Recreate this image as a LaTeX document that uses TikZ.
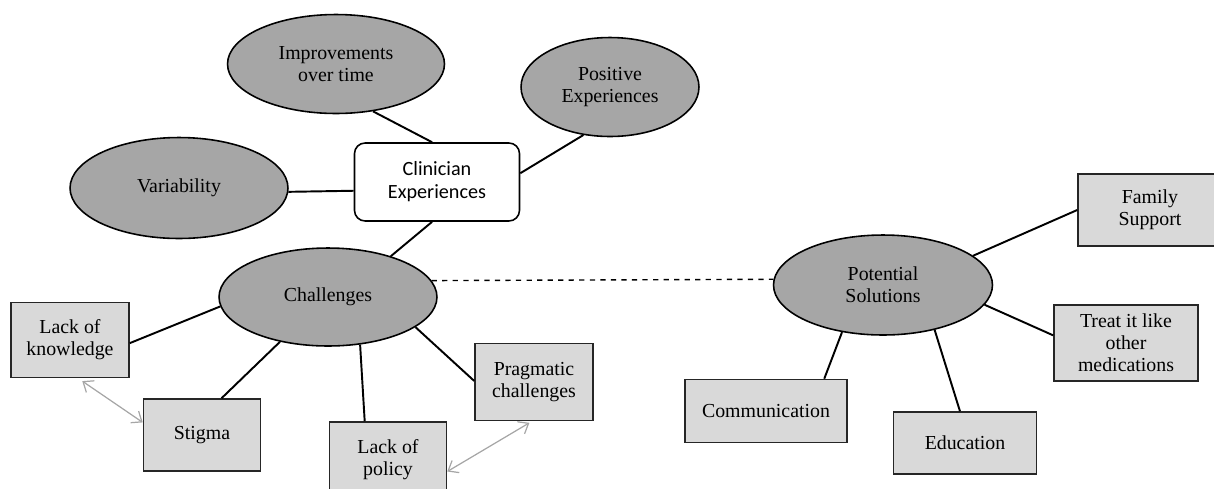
\documentclass[tikz,border=0pt]{standalone}
\usepackage{fontspec}
\setmainfont{Liberation Serif}
\newfontfamily\calfont{Carlito}
\usetikzlibrary{shapes.geometric,arrows.meta}

\tikzset{
  bubble/.style={ellipse,draw=black,line width=0.9pt,fill=black!35,inner sep=0pt,align=center,font=\fontsize{11.3}{12.6}\selectfont},
  leaf/.style={rectangle,draw=black!85,line width=0.9pt,fill=black!15,inner sep=0pt,align=center,font=\fontsize{11.3}{12.6}\selectfont},
  link/.style={line width=1.1pt},
  crosslink/.style={draw=black!35,line width=0.7pt,{Straight Barb[length=5pt,width=8pt]}-{Straight Barb[length=5pt,width=8pt]}}
}

\begin{document}
\begin{tikzpicture}[x=0.02cm,y=-0.02cm]
  \useasboundingbox (0,0) rectangle (1214,488);

  %%%%%%%%%%%Draw the centre box%%%%%%%%%%%
  \node[rectangle,rounded corners=6pt,draw=black,line width=0.9pt,fill=white,minimum width=3.3cm,minimum height=1.56cm,align=center,font=\calfont\fontsize{11.5}{13}\selectfont] (clin) at (437,182) {Clinician\\Experiences};

  %%%%%%%%%%%Draw the four themes%%%%%%%%%%
  \node[bubble,minimum width=4.34cm,minimum height=1.98cm] (imp) at (336,64) {Improvements\\over time};
  \node[bubble,minimum width=3.56cm,minimum height=1.98cm] (pos) at (610,87) {Positive\\Experiences};
  \node[bubble,minimum width=4.36cm,minimum height=2.02cm] (var) at (179,188) {Variability};
  \node[bubble,minimum width=4.36cm,minimum height=1.96cm] (chal) at (328,297) {Challenges};

  \draw[link] (imp.-52) -- (clin.97);
  \draw[link] (pos.241) -- (clin.6);
  \draw[link] (var.-2) -- (clin.186);
  \draw[link] (clin.263) -- (chal.33);

  %%%%%%%%%%%Draw the challenges%%%%%%%%%%%
  \node[leaf,minimum width=2.36cm,minimum height=1.5cm] (lk) at (70,340) {Lack of\\knowledge};
  \node[leaf,minimum width=2.34cm,minimum height=1.44cm] (stig) at (202,435) {Stigma};
  \node[leaf,minimum width=2.34cm,minimum height=1.52cm] (lp) at (388,460) {Lack of\\policy};
  \node[leaf,minimum width=2.36cm,minimum height=1.54cm] (prag) at (534,382) {Pragmatic\\challenges};

  \draw[link] (chal.185) -- (lk.-3);
  \draw[link] (chal.223) -- (stig.62);
  \draw[link] (chal.304) -- (lp.121);
  \draw[link] (chal.-19) -- (prag.179);

  \draw[crosslink,shorten <=0.1cm] (lk.282) -- (stig.168);
  \draw[crosslink,shorten >=0.06cm] (lp.-11) -- (prag.267);

  %%%%%%%%%%%Draw the solutions%%%%%%%%%%%%
  \node[bubble,minimum width=4.38cm,minimum height=2.0cm] (pot) at (883,285) {Potential\\Solutions};
  \node[leaf,minimum width=2.88cm,minimum height=1.44cm] (fam) at (1150,210) {Family\\Support};
  \node[leaf,minimum width=2.88cm,minimum height=1.52cm] (treat) at (1126,343) {Treat it like\\other\\medications};
  \node[leaf,minimum width=3.24cm,minimum height=1.26cm] (comm) at (766,411) {Communication};
  \node[leaf,minimum width=2.86cm,minimum height=1.24cm] (edu) at (965,443) {Education};

  \draw[link,dashed,line width=0.8pt] (chal.9.5) -- (pot.177);
  \draw[link] (pot.18) -- (fam.180);
  \draw[link] (pot.-11) -- (treat.174);
  \draw[link] (pot.229) -- (comm.29);
  \draw[link] (pot.-41) -- (edu.99);
\end{tikzpicture}
\end{document}
